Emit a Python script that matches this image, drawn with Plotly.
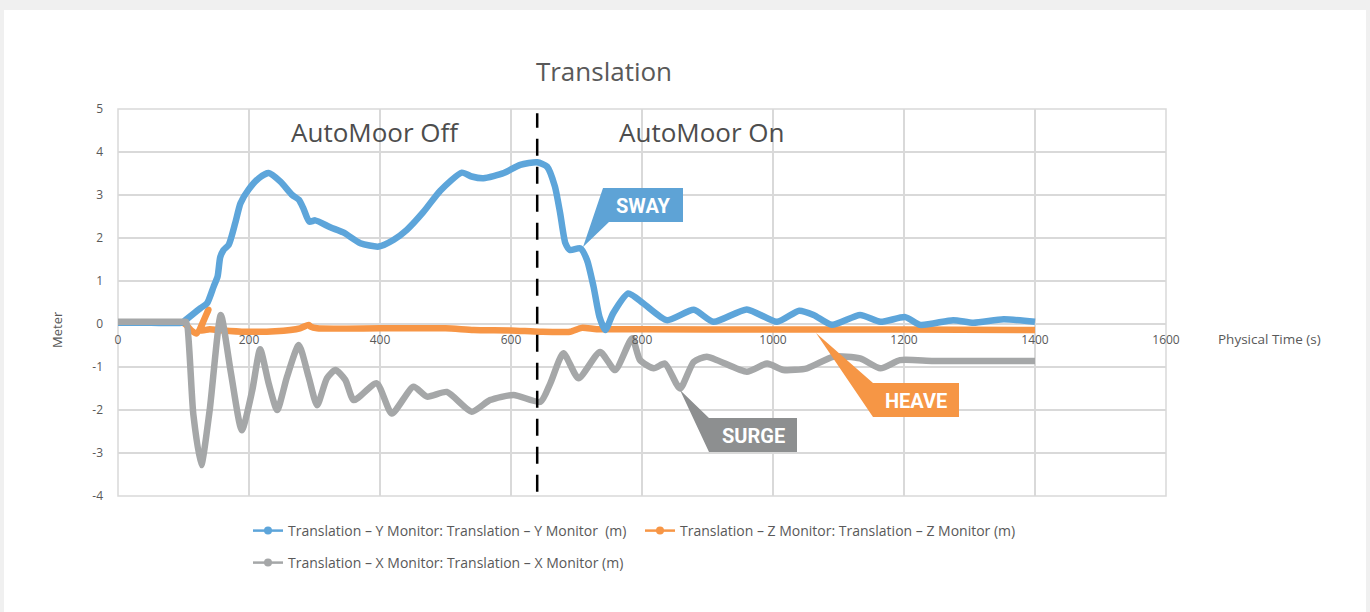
import plotly.graph_objects as go

# ---------------- data ----------------
time_y = [0, 50, 98, 103, 126, 136, 146, 152, 156, 161, 169, 179, 187, 199, 215, 230, 248, 266,
          276, 283, 292, 301, 324, 344, 370, 398, 421, 441, 466, 492, 525, 540, 558, 589, 614,
          640, 655, 667, 675, 683, 690, 706, 716, 726, 735, 744, 756, 779, 802, 838, 879, 909,
          960, 1006, 1040, 1062, 1090, 1133, 1164, 1202, 1225, 1275, 1306, 1352, 1400]
sway_y = [0.03, 0.03, 0.03, 0.09, 0.37, 0.48, 0.87, 1.10, 1.55, 1.72, 1.84, 2.35, 2.81, 3.12, 3.39,
          3.51, 3.31, 3.00, 2.89, 2.69, 2.38, 2.41, 2.25, 2.13, 1.88, 1.80, 1.96, 2.19, 2.60,
          3.10, 3.52, 3.43, 3.39, 3.51, 3.70, 3.76, 3.66, 3.20, 2.58, 1.88, 1.72, 1.76, 1.49,
          0.87, 0.17, -0.14, 0.25, 0.71, 0.48, 0.09, 0.33, 0.05, 0.34, 0.05, 0.31, 0.21, -0.02,
          0.21, 0.05, 0.16, -0.02, 0.09, 0.03, 0.11, 0.05]

time_z = [0, 50, 98, 104, 112, 120, 138, 126, 140, 160, 197, 240, 278, 291, 294, 304, 400, 500,
          543, 600, 644, 690, 708, 731, 800, 1000, 1200, 1400]
heave_z = [0.03, 0.03, 0.03, -0.02, -0.15, -0.22, 0.33, -0.15, -0.12, -0.15, -0.18, -0.17, -0.10,
           -0.02, -0.06, -0.10, -0.10, -0.10, -0.14, -0.15, -0.18, -0.18, -0.09, -0.12, -0.12,
           -0.13, -0.13, -0.14]

time_x = [0, 50, 100, 104, 115, 127, 140, 157, 172, 189, 205, 217, 230, 243, 258, 276, 291,
          304, 319, 332, 347, 360, 395, 418, 451, 472, 502, 540, 568, 604, 645, 660, 680, 703,
          736, 759, 785, 797, 818, 835, 858, 879, 899, 960, 991, 1016, 1052, 1092, 1133, 1164,
          1194, 1245, 1347, 1400]
surge_x = [0.05, 0.05, 0.05, 0.05, -2.10, -3.28, -2.00, 0.21, -1.10, -2.47, -1.54, -0.59,
           -1.38, -2.00, -1.23, -0.49, -1.23, -1.89, -1.26, -1.07, -1.30, -1.77, -1.38, -2.08,
           -1.46, -1.69, -1.58, -2.04, -1.77, -1.65, -1.81, -1.38, -0.68, -1.26, -0.65, -1.07,
           -0.33, -0.84, -1.03, -0.92, -1.50, -0.88, -0.76, -1.11, -0.92, -1.07, -1.03, -0.76,
           -0.80, -1.03, -0.84, -0.86, -0.86, -0.86]

names = ["Translation – Y Monitor: Translation – Y Monitor  (m)",
         "Translation – Z Monitor: Translation – Z Monitor (m)",
         "Translation – X Monitor: Translation – X Monitor (m)"]
x_ticks = [0, 200, 400, 600, 800, 1000, 1200, 1400, 1600]
y_ticks = [-4, -3, -2, -1, 0, 1, 2, 3, 4, 5]
switch_time = 640

BLUE = "#5da5da"
ORANGE = "#f79646"
GRAY = "#a5a7a8"
TXT = "#595959"
GRID = "#d9d9d9"

W, H = 1370, 612
L, R, T, B = 118, 204, 109, 116
PW, PH = W - L - R, H - T - B


def px(x):  # pixel -> paper x
    return (x - L) / PW


def py(y):  # pixel -> paper y
    return (H - B - y) / PH


fig = go.Figure()
fig.add_trace(go.Scatter(x=time_z, y=heave_z, mode="lines", showlegend=False,
                         line=dict(color=ORANGE, width=6.5, shape="spline", smoothing=0.6)))
fig.add_trace(go.Scatter(x=time_y, y=sway_y, mode="lines", showlegend=False,
                         line=dict(color=BLUE, width=6.5, shape="spline", smoothing=0.6)))
fig.add_trace(go.Scatter(x=time_x, y=surge_x, mode="lines", showlegend=False,
                         line=dict(color=GRAY, width=6.5, shape="spline", smoothing=0.6)))

# legend entries
for name, col, lg in [(names[0], BLUE, "legend"), (names[1], ORANGE, "legend"), (names[2], GRAY, "legend2")]:
    fig.add_trace(go.Scatter(x=[None], y=[None], mode="lines+markers", name=name, legend=lg,
                             line=dict(color=col, width=2.5), marker=dict(color=col, size=8)))

shapes = []
# white card
shapes.append(dict(type="rect", xref="paper", yref="paper", x0=px(4), x1=px(1366), y0=py(10), y1=py(640),
                   fillcolor="white", line=dict(width=0), layer="below"))
# plot frame
shapes.append(dict(type="rect", xref="paper", yref="paper", x0=0, x1=1, y0=0, y1=1,
                   line=dict(color=GRID, width=1.5), layer="below"))
# dashed switch line
shapes.append(dict(type="line", xref="x", yref="y", x0=switch_time, x1=switch_time, y0=-3.9, y1=4.9,
                   line=dict(color="black", width=2.5, dash="17px,11px")))


def poly(pts, col):
    d = "M " + " L ".join(f"{px(a):.5f},{py(b):.5f}" for a, b in pts) + " Z"
    return dict(type="path", xref="paper", yref="paper", path=d, fillcolor=col, line=dict(width=0))


shapes.append(poly([(603, 188), (683, 188), (683, 222), (609, 222), (583, 247)], "#5ea3d6"))
shapes.append(poly([(816, 333), (873, 383), (959, 383), (959, 417), (873, 417)], "#f69645"))
shapes.append(poly([(680, 390), (709, 418), (797, 418), (797, 452), (709, 452)], "#8d8f90"))

annotations = []
for txt, cx, cy in [("SWAY", 643, 206), ("HEAVE", 916, 401), ("SURGE", 753, 436)]:
    annotations.append(dict(text=f"<b>{txt}</b>", x=px(cx), y=py(cy), xref="paper", yref="paper",
                            showarrow=False, xanchor="center", yanchor="middle",
                            font=dict(family="Roboto", size=20, color="white")))
annotations.append(dict(text="AutoMoor Off", x=px(375), y=py(132), xref="paper", yref="paper",
                        showarrow=False, xanchor="center", yanchor="middle",
                        font=dict(family="Open Sans", size=26, color="#4d4d4d")))
annotations.append(dict(text="AutoMoor On", x=px(702), y=py(132), xref="paper", yref="paper",
                        showarrow=False, xanchor="center", yanchor="middle",
                        font=dict(family="Open Sans", size=26, color="#4d4d4d")))
annotations.append(dict(text="Meter", x=px(57), y=py(330), xref="paper", yref="paper", textangle=-90,
                        showarrow=False, xanchor="center", yanchor="middle",
                        font=dict(family="Open Sans", size=13, color=TXT)))
annotations.append(dict(text="Physical Time (s)", x=px(1216), y=py(339), xref="paper", yref="paper",
                        showarrow=False, xanchor="left", yanchor="middle",
                        font=dict(family="Open Sans", size=13.5, color=TXT)))

fig.update_layout(
    width=W, height=H,
    margin=dict(l=L, r=R, t=T, b=B, autoexpand=False),
    paper_bgcolor="#f0f0f0", plot_bgcolor="white",
    title=dict(text="Translation", x=604 / W, xanchor="center", xref="container",
               y=1 - 72 / H, yanchor="middle", yref="container",
               font=dict(family="Open Sans", size=26, color=TXT)),
    xaxis=dict(range=[0, 1600], tickvals=x_ticks, ticktext=[str(v) for v in x_ticks],
               anchor="free", position=4 / 9, showgrid=True, gridcolor=GRID, gridwidth=1.5,
               zeroline=False, showline=False, ticks="", ticklabelstandoff=7,
               tickfont=dict(family="Open Sans", size=12, color=TXT)),
    yaxis=dict(range=[-4, 5], tickvals=y_ticks, ticktext=[str(v) for v in y_ticks],
               showgrid=True, gridcolor=GRID, gridwidth=1.5, zeroline=True, zerolinecolor=GRID,
               zerolinewidth=1.5, showline=False, ticks="", ticklabelstandoff=14,
               tickfont=dict(family="Open Sans", size=12, color=TXT)),
    shapes=shapes, annotations=annotations,
    legend=dict(orientation="h", xref="container", yref="container", x=248 / W, y=1 - 531 / H,
                xanchor="left", yanchor="middle", bgcolor="rgba(0,0,0,0)", entrywidth=347,
                font=dict(family="Open Sans", size=14, color=TXT)),
    legend2=dict(orientation="h", xref="container", yref="container", x=248 / W, y=1 - 563 / H,
                 xanchor="left", yanchor="middle", bgcolor="rgba(0,0,0,0)",
                 font=dict(family="Open Sans", size=14, color=TXT)),
)

fig.write_html("out.html", config={"displayModeBar": False},
               post_script="document.body.style.margin='0';")
